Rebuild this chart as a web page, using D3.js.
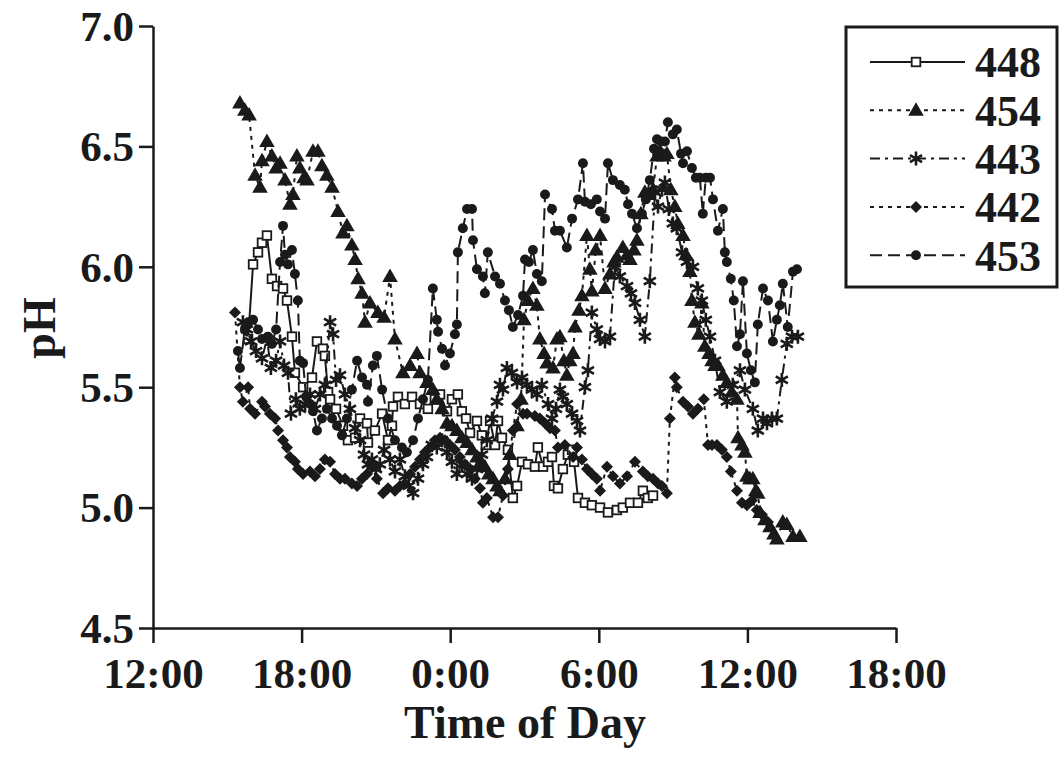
<!DOCTYPE html>
<html>
<head>
<meta charset="utf-8">
<script src="https://cdn.jsdelivr.net/npm/d3@7"></script>
<style>
  html, body { margin: 0; padding: 0; background: #fff; }
  svg text { font-family: "Liberation Serif", "Times New Roman", serif; font-weight: bold; fill: #1a1a1a; }
</style>
</head>
<body>
<svg id="chart" width="1062" height="757"></svg>
<script>
// Time is in hours counted from 0:00 of day 1 (so 24 = midnight, 30 = 6:00 next day)
const xTickValues = [12, 18, 24, 30, 36, 42];
const xTickLabels = ["12:00", "18:00", "0:00", "6:00", "12:00", "18:00"];
const yTickValues = [4.5, 5.0, 5.5, 6.0, 6.5, 7.0];
const seriesNames = ["448", "454", "443", "442", "453"];

const s448 = [[15.84,5.70],[16.04,6.01],[16.24,6.06],[16.40,6.10],[16.60,6.13],[16.80,5.95],[17.01,5.92],[17.25,5.91],[17.41,5.86],[17.61,5.71],[17.73,5.56],[18.06,5.50],[18.42,5.54],[18.62,5.69],[18.86,5.66],[18.94,5.63],[19.07,5.48],[19.15,5.45],[19.39,5.41],[19.67,5.34],[19.87,5.28],[20.16,5.29],[20.36,5.37],[20.64,5.35],[20.68,5.27],[20.96,5.32],[21.25,5.39],[21.49,5.28],[21.65,5.34],[21.69,5.42],[21.89,5.46],[22.17,5.43],[22.46,5.46],[22.78,5.43],[23.10,5.41],[23.38,5.45],[23.59,5.47],[23.87,5.40],[24.07,5.45],[24.31,5.47],[24.47,5.40],[24.64,5.37],[24.80,5.31],[25.08,5.36],[25.28,5.30],[25.44,5.26],[25.61,5.36],[25.81,5.26],[25.93,5.36],[26.09,5.29],[26.33,5.24],[26.53,5.04],[26.70,5.09],[26.90,5.19],[27.14,5.18],[27.42,5.17],[27.54,5.25],[27.75,5.17],[27.95,5.19],[28.11,5.21],[28.19,5.09],[28.35,5.08],[28.55,5.16],[28.75,5.22],[28.92,5.24],[29.00,5.19],[29.16,5.04],[29.44,5.02],[29.72,5.01],[30.05,5.00],[30.37,4.98],[30.73,4.99],[30.97,5.00],[31.26,5.02],[31.58,5.02],[31.78,5.07],[31.98,5.04],[32.19,5.05]];

const s454 = [[15.51,6.68],[15.71,6.65],[15.88,6.63],[16.12,6.38],[16.32,6.33],[16.40,6.44],[16.60,6.52],[16.80,6.46],[16.97,6.41],[17.13,6.43],[17.33,6.36],[17.53,6.26],[17.65,6.30],[17.81,6.46],[17.93,6.41],[18.10,6.37],[18.22,6.36],[18.46,6.48],[18.66,6.48],[18.82,6.42],[19.02,6.38],[19.23,6.33],[19.47,6.23],[19.67,6.14],[19.83,6.17],[20.03,6.09],[20.16,6.03],[20.28,5.95],[20.44,5.89],[20.56,5.77],[20.76,5.85],[21.08,5.81],[21.33,5.79],[21.57,5.96],[21.77,5.70],[22.09,5.56],[22.38,5.59],[22.66,5.64],[22.78,5.56],[23.06,5.52],[23.30,5.49],[23.46,5.45],[23.67,5.41],[23.87,5.35],[24.07,5.34],[24.27,5.32],[24.47,5.29],[24.68,5.27],[24.88,5.24],[25.08,5.21],[25.24,5.19],[25.40,5.17],[25.56,5.14],[25.73,5.12],[25.89,5.09],[26.01,5.07],[26.21,5.12],[26.41,5.22],[26.70,5.34],[26.86,5.45],[26.98,5.78],[27.14,5.86],[27.34,5.91],[27.50,5.84],[27.62,5.70],[27.79,5.64],[27.91,5.60],[28.15,5.58],[28.31,5.70],[28.43,5.71],[28.59,5.61],[28.71,5.55],[28.83,5.61],[28.96,5.64],[29.04,5.75],[29.20,5.82],[29.32,5.88],[29.52,6.13],[29.64,5.99],[29.72,5.90],[29.88,6.07],[30.05,6.13],[30.25,5.91],[30.45,5.97],[30.61,6.02],[30.73,6.04],[30.97,6.08],[31.14,6.05],[31.26,6.03],[31.42,6.07],[31.54,6.11],[31.70,6.22],[31.86,6.31],[32.02,6.30],[32.19,6.32],[32.35,6.46],[32.47,6.48],[32.63,6.46],[32.75,6.47],[32.91,6.32],[33.07,6.25],[33.19,6.18],[33.40,6.13],[33.52,6.05],[33.68,5.98],[33.76,5.86],[33.88,5.77],[34.04,5.72],[34.16,5.85],[34.28,5.67],[34.45,5.64],[34.57,5.61],[34.69,5.59],[34.81,5.59],[35.01,5.55],[35.17,5.52],[35.37,5.48],[35.58,5.45],[35.62,5.29],[35.78,5.26],[35.90,5.23],[35.98,5.13],[36.10,5.12],[36.22,5.12],[36.34,5.07],[36.42,5.06],[36.51,4.98],[36.71,4.95],[36.91,4.92],[37.07,4.89],[37.19,4.87],[37.43,4.94],[37.59,4.93],[37.84,4.88],[38.12,4.88]];

const s443 = [[15.63,5.77],[15.79,5.74],[15.96,5.69],[16.16,5.65],[16.40,5.62],[16.60,5.70],[16.76,5.58],[16.97,5.61],[17.13,5.69],[17.29,5.59],[17.45,5.56],[17.57,5.39],[17.77,5.45],[17.93,5.41],[18.14,5.43],[18.34,5.47],[18.54,5.41],[18.74,5.47],[18.94,5.51],[19.15,5.77],[19.27,5.72],[19.39,5.53],[19.55,5.55],[19.75,5.47],[19.95,5.41],[20.16,5.33],[20.36,5.28],[20.52,5.22],[20.68,5.18],[20.84,5.20],[21.00,5.16],[21.16,5.18],[21.33,5.24],[21.57,5.20],[21.77,5.15],[21.97,5.20],[22.17,5.13],[22.33,5.09],[22.50,5.06],[22.70,5.12],[22.90,5.18],[23.06,5.21],[23.26,5.26],[23.46,5.25],[23.67,5.28],[23.87,5.23],[24.07,5.19],[24.27,5.14],[24.47,5.18],[24.68,5.14],[24.88,5.12],[25.08,5.16],[25.28,5.22],[25.48,5.28],[25.69,5.37],[25.89,5.44],[26.01,5.51],[26.13,5.49],[26.29,5.58],[26.49,5.56],[26.70,5.52],[26.90,5.54],[27.10,5.51],[27.30,5.49],[27.50,5.47],[27.70,5.51],[27.95,5.43],[28.11,5.37],[28.27,5.41],[28.43,5.49],[28.55,5.46],[28.71,5.43],[28.92,5.39],[29.12,5.36],[29.24,5.32],[29.44,5.50],[29.56,5.57],[29.72,5.81],[29.92,5.74],[30.05,5.70],[30.25,5.69],[30.45,5.71],[30.65,6.00],[30.85,5.96],[31.14,5.92],[31.30,5.89],[31.46,5.85],[31.66,5.78],[31.86,5.71],[32.06,5.94],[32.27,6.31],[32.39,6.25],[32.55,6.32],[32.67,6.35],[32.83,6.24],[32.99,6.18],[33.15,6.16],[33.36,6.06],[33.56,6.02],[33.80,6.00],[34.00,5.91],[34.16,5.86],[34.32,5.78],[34.49,5.71],[34.69,5.61],[34.89,5.48],[35.17,5.44],[35.41,5.51],[35.70,5.57],[35.90,5.49],[36.22,5.41],[36.42,5.32],[36.63,5.37],[36.79,5.35],[36.99,5.37],[37.19,5.37],[37.39,5.53],[37.59,5.68],[37.80,5.71],[38.04,5.71]];

const s442 = [[15.31,5.81],[15.51,5.50],[15.63,5.44],[15.84,5.50],[15.92,5.41],[16.12,5.39],[16.40,5.44],[16.52,5.42],[16.72,5.39],[16.93,5.37],[17.05,5.32],[17.25,5.28],[17.41,5.25],[17.53,5.21],[17.73,5.19],[17.85,5.16],[18.06,5.14],[18.34,5.15],[18.54,5.13],[18.74,5.16],[18.94,5.20],[19.15,5.19],[19.35,5.14],[19.55,5.12],[19.75,5.12],[20.03,5.10],[20.24,5.09],[20.44,5.12],[20.64,5.14],[20.84,5.17],[21.04,5.12],[21.29,5.06],[21.49,5.08],[21.77,5.07],[21.97,5.09],[22.17,5.10],[22.38,5.14],[22.58,5.17],[22.78,5.20],[22.98,5.23],[23.18,5.25],[23.38,5.28],[23.59,5.29],[23.79,5.28],[23.99,5.26],[24.19,5.24],[24.39,5.21],[24.60,5.18],[24.80,5.16],[25.00,5.12],[25.20,5.08],[25.32,5.02],[25.48,5.04],[25.73,4.96],[25.93,4.96],[26.13,5.05],[26.33,5.16],[26.53,5.32],[26.70,5.43],[26.94,5.39],[27.10,5.39],[27.42,5.38],[27.62,5.37],[27.83,5.35],[28.03,5.33],[28.23,5.32],[28.35,5.25],[28.63,5.26],[28.96,5.21],[29.12,5.25],[29.32,5.20],[29.52,5.16],[29.72,5.14],[29.92,5.12],[30.05,5.07],[30.33,5.17],[30.57,5.13],[30.85,5.10],[31.14,5.13],[31.46,5.19],[31.78,5.15],[31.98,5.13],[32.19,5.12],[32.39,5.10],[32.55,5.09],[32.75,5.06],[32.87,5.37],[33.07,5.54],[33.15,5.50],[33.40,5.44],[33.60,5.42],[33.80,5.39],[34.00,5.41],[34.24,5.45],[34.41,5.26],[34.57,5.26],[34.77,5.26],[34.97,5.24],[35.17,5.21],[35.33,5.15],[35.58,5.07],[35.78,5.02],[35.98,5.01],[36.18,5.03],[36.38,4.99],[36.59,4.97],[36.83,4.94]];

const s453 = [[15.43,5.65],[15.51,5.58],[15.71,5.74],[15.84,5.77],[16.04,5.78],[16.24,5.74],[16.40,5.70],[16.64,5.71],[16.80,5.68],[16.97,5.74],[17.13,6.02],[17.25,6.17],[17.33,6.05],[17.45,6.01],[17.61,6.07],[17.73,5.97],[17.85,5.86],[17.93,5.61],[18.06,5.60],[18.18,5.46],[18.34,5.43],[18.46,5.40],[18.62,5.32],[18.82,5.37],[19.02,5.41],[19.23,5.37],[19.43,5.34],[19.63,5.30],[19.83,5.37],[20.03,5.49],[20.24,5.61],[20.44,5.54],[20.64,5.51],[20.68,5.44],[20.88,5.59],[21.04,5.63],[21.25,5.49],[21.49,5.37],[21.77,5.28],[22.05,5.25],[22.25,5.23],[22.50,5.28],[22.70,5.37],[22.90,5.45],[23.10,5.53],[23.30,5.91],[23.46,5.78],[23.51,5.73],[23.67,5.66],[23.79,5.59],[23.99,5.64],[24.19,5.72],[24.27,5.76],[24.31,6.06],[24.51,6.16],[24.68,6.24],[24.88,6.24],[24.92,6.11],[25.08,5.99],[25.32,5.96],[25.40,5.89],[25.52,6.06],[25.81,5.96],[26.01,5.93],[26.21,5.86],[26.37,5.82],[26.53,5.75],[26.74,5.80],[26.94,5.88],[27.02,6.03],[27.18,6.02],[27.34,6.07],[27.50,5.97],[27.70,5.94],[27.83,6.30],[28.11,6.24],[28.23,6.15],[28.43,6.15],[28.71,6.08],[28.92,6.20],[29.16,6.28],[29.36,6.43],[29.44,6.27],[29.68,6.26],[29.92,6.28],[30.05,6.23],[30.25,6.20],[30.37,6.43],[30.57,6.36],[30.85,6.34],[31.05,6.32],[31.18,6.26],[31.34,6.22],[31.54,6.16],[31.74,6.22],[31.90,6.28],[32.06,6.36],[32.23,6.49],[32.35,6.53],[32.51,6.52],[32.67,6.52],[32.79,6.60],[32.99,6.55],[33.15,6.57],[33.32,6.47],[33.40,6.43],[33.56,6.48],[33.76,6.41],[33.92,6.37],[34.08,6.37],[34.20,6.22],[34.32,6.37],[34.49,6.37],[34.61,6.28],[34.81,6.15],[35.01,6.24],[35.09,6.06],[35.17,6.02],[35.33,5.95],[35.45,5.86],[35.58,5.67],[35.70,5.72],[35.82,5.94],[35.98,5.64],[36.14,5.57],[36.30,5.52],[36.42,5.76],[36.63,5.91],[36.83,5.86],[37.03,5.69],[37.19,5.78],[37.31,5.84],[37.43,5.93],[37.63,5.75],[37.84,5.98],[38.00,5.99]];

const seriesData = [s448, s454, s443, s442, s453];
const seriesDash = [null, "4,5", "10,5,3,5", "4,5", "12,6"];
const seriesMarker = ["square", "triangle", "asterisk", "diamond", "circle"];

const svg = d3.select("#chart");
const x = d3.scaleLinear().domain([12, 42]).range([153, 896]);
const y = d3.scaleLinear().domain([4.5, 7.0]).range([628, 26]);

// axes
const xAxis = svg.append("g")
  .attr("transform", `translate(0,${y(4.5)})`)
  .call(d3.axisBottom(x).tickValues(xTickValues)
    .tickFormat((d, i) => xTickLabels[i]).tickSize(15).tickSizeOuter(0).tickPadding(6));
const yAxis = svg.append("g")
  .attr("transform", `translate(${x(12)},0)`)
  .call(d3.axisLeft(y).tickValues(yTickValues)
    .tickFormat(d3.format(".1f")).tickSize(14).tickSizeOuter(0).tickPadding(5));
[xAxis, yAxis].forEach(g => {
  g.selectAll("path.domain").attr("stroke", "#1a1a1a").attr("stroke-width", 2.5);
  g.selectAll(".tick line").attr("stroke", "#1a1a1a").attr("stroke-width", 2.5);
  g.selectAll("text").attr("font-size", 43).attr("font-family", "Liberation Serif")
    .attr("font-weight", "bold").attr("fill", "#1a1a1a");
});
xAxis.selectAll("text").attr("dy", "0.9em");
yAxis.selectAll("text").attr("dy", "0.33em");

svg.append("text").attr("x", 525).attr("y", 738).attr("text-anchor", "middle")
  .attr("font-size", 46).text("Time of Day");
svg.append("text").attr("transform", "translate(55,328) rotate(-90)")
  .attr("text-anchor", "middle").attr("font-size", 46).text("pH");

// marker drawing
function drawMarker(g, type, cx, cy) {
  if (type === "square") {
    g.append("rect").attr("x", cx - 4.3).attr("y", cy - 4.3)
      .attr("width", 8.6).attr("height", 8.6)
      .attr("fill", "#fff").attr("stroke", "#1a1a1a").attr("stroke-width", 1.8);
  } else if (type === "triangle") {
    g.append("path").attr("transform", `translate(${cx},${cy + 1})`)
      .attr("d", d3.symbol(d3.symbolTriangle, 105)()).attr("fill", "#1a1a1a");
  } else if (type === "diamond") {
    g.append("path").attr("transform", `translate(${cx},${cy}) rotate(45)`)
      .attr("d", d3.symbol(d3.symbolSquare, 72)()).attr("fill", "#1a1a1a");
  } else if (type === "circle") {
    g.append("path").attr("transform", `translate(${cx},${cy})`)
      .attr("d", d3.symbol(d3.symbolCircle, 78)()).attr("fill", "#1a1a1a");
  } else if (type === "asterisk") {
    const r = 7;
    const p = d3.path();
    [90, 30, 150].forEach(a => {
      const rad = a * Math.PI / 180;
      p.moveTo(cx - r * Math.cos(rad), cy - r * Math.sin(rad));
      p.lineTo(cx + r * Math.cos(rad), cy + r * Math.sin(rad));
    });
    g.append("path").attr("d", p.toString()).attr("stroke", "#1a1a1a")
      .attr("stroke-width", 2.6).attr("fill", "none");
  }
}

const line = d3.line().x(d => x(d[0])).y(d => y(d[1]));
const plot = svg.append("g");
seriesData.forEach((data, i) => {
  const g = plot.append("g");
  g.append("path").datum(data).attr("d", line)
    .attr("fill", "none").attr("stroke", "#1a1a1a").attr("stroke-width", 2)
    .attr("stroke-dasharray", seriesDash[i]);
  data.forEach(d => drawMarker(g, seriesMarker[i], x(d[0]), y(d[1])));
});

// legend
const lg = svg.append("g");
lg.append("rect").attr("x", 846).attr("y", 27).attr("width", 211).attr("height", 260)
  .attr("fill", "#fff").attr("stroke", "#1a1a1a").attr("stroke-width", 3);
seriesNames.forEach((name, i) => {
  const yy = 62 + i * 48.3;
  lg.append("line").attr("x1", 870).attr("x2", 965).attr("y1", yy).attr("y2", yy)
    .attr("stroke", "#1a1a1a").attr("stroke-width", 2)
    .attr("stroke-dasharray", seriesDash[i]);
  drawMarker(lg, seriesMarker[i], 916, yy);
  lg.append("text").attr("x", 975).attr("y", yy).attr("dy", "0.35em")
    .attr("font-size", 44).text(name);
});
</script>
</body>
</html>
